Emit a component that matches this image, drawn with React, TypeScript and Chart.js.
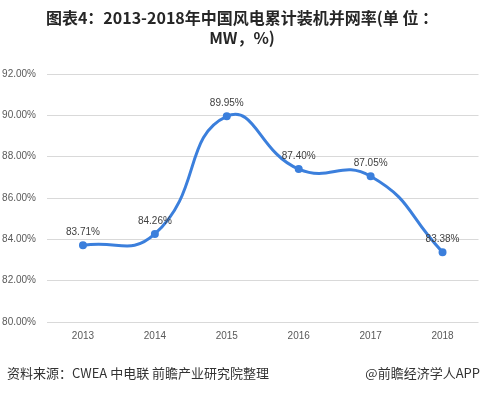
import React, { useEffect, useRef } from "react";
import { Chart, registerables } from "chart.js";

Chart.register(...registerables);

const years = ["2013", "2014", "2015", "2016", "2017", "2018"];
const rates = [83.71, 84.26, 89.95, 87.4, 87.05, 83.38];
const yMin = 80;
const yMax = 92;
const yStep = 2;

const labelPlugin = {
  id: "valueLabels",
  afterDatasetsDraw(chart: any) {
    const ctx = chart.ctx;
    const meta = chart.getDatasetMeta(0);
    ctx.save();
    ctx.font = '10px "Liberation Sans", Arial, sans-serif';
    ctx.fillStyle = "#404040";
    ctx.textAlign = "center";
    ctx.textBaseline = "middle";
    meta.data.forEach((pt: any, i: number) => {
      ctx.fillText(rates[i].toFixed(2) + "%", pt.x, pt.y - 13);
    });
    ctx.restore();
  },
};

export default function App() {
  const ref = useRef<HTMLCanvasElement | null>(null);
  useEffect(() => {
    if (!ref.current) return;
    const chart = new Chart(ref.current, {
      type: "line",
      data: {
        labels: years,
        datasets: [
          {
            data: rates,
            borderColor: "#3b7fdc",
            backgroundColor: "#3b7fdc",
            borderWidth: 3,
            pointRadius: 2.5,
            pointHoverRadius: 2.5,
            tension: 0.5,
            fill: false,
          },
        ],
      },
      options: {
        animation: false,
        responsive: false,
        maintainAspectRatio: false,
        layout: { padding: { top: 74, bottom: 44, left: 0, right: 4 } },
        plugins: {
          legend: { display: false },
          tooltip: { enabled: false },
          title: { display: false },
        },
        scales: {
          x: {
            offset: true,
            grid: { display: false, drawTicks: false },
            border: { display: false },
            ticks: {
              color: "#595959",
              font: { size: 10, family: '"Liberation Sans", Arial, sans-serif' },
              padding: 8,
            },
          },
          y: {
            min: yMin,
            max: yMax,
            afterFit: (s: any) => {
              s.width = 47;
            },
            grid: { color: "#d9d9d9", drawTicks: false, lineWidth: 1 },
            border: { display: false },
            ticks: {
              stepSize: yStep,
              color: "#595959",
              padding: 11,
              font: { size: 10, family: '"Liberation Sans", Arial, sans-serif' },
              callback: (v: any) => Number(v).toFixed(2) + "%",
            },
          },
        },
      },
      plugins: [labelPlugin],
    });
    return () => chart.destroy();
  }, []);

  return (
    <div
      style={{
        position: "fixed",
        left: 0,
        top: 0,
        width: 484,
        height: 394,
        background: "#fff",
        fontFamily: '"Noto Sans CJK SC", sans-serif',
      }}
    >
      <canvas ref={ref} width={484} height={394} style={{ position: "absolute", left: 0, top: 0 }} />
      <div
        style={{
          position: "absolute",
          left: 0,
          top: 7,
          width: 484,
          textAlign: "center",
          fontWeight: "bold",
          fontSize: 16,
          lineHeight: "20px",
          color: "#262626",
        }}
      >
        图表4：2013-2018年中国风电累计装机并网率(单 位 ：
        <br />
        MW，%)
      </div>
      <div
        style={{
          position: "absolute",
          left: 7,
          top: 363,
          fontSize: 13,
          lineHeight: "20px",
          color: "#333",
        }}
      >
        资料来源：CWEA 中电联 前瞻产业研究院整理
      </div>
      <div
        style={{
          position: "absolute",
          right: 4,
          top: 363,
          fontSize: 13,
          lineHeight: "20px",
          color: "#333",
        }}
      >
        @前瞻经济学人APP
      </div>
    </div>
  );
}
